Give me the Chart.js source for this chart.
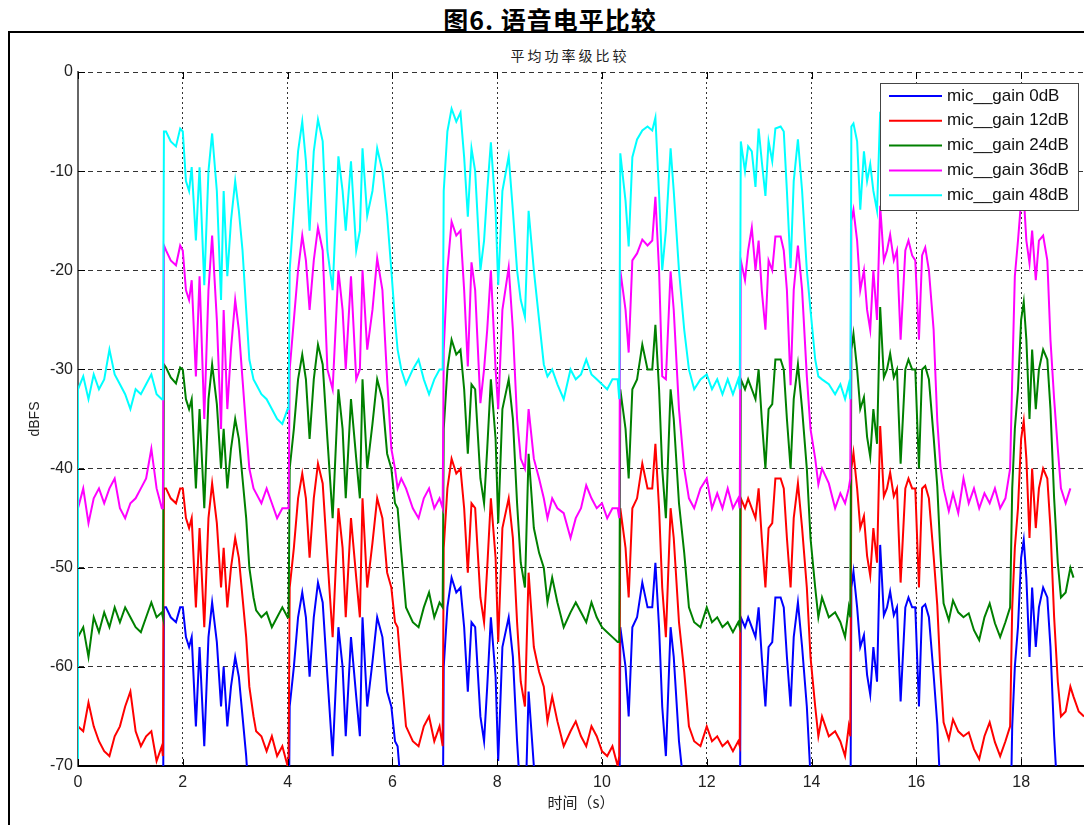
<!DOCTYPE html>
<html>
<head>
<meta charset="utf-8">
<title>语音电平比较</title>
<script src="https://cdn.jsdelivr.net/npm/chart.js@4.4.1/dist/chart.umd.min.js"></script>
<style>
    html, body { margin: 0; padding: 0; background: #fff; }
    #page { position: relative; width: 1084px; height: 825px; overflow: hidden; }
    #figTitle {
        position: absolute; left: 0; top: 1px; width: 1100px; text-align: center;
        font: bold 25px "Noto Sans CJK SC", sans-serif; letter-spacing: 1px; color: #000;
    }
    #frame {
        position: absolute; left: 8px; top: 31px; width: 1200px; height: 900px;
        border-left: 2px solid #000; border-top: 2px solid #000;
    }
    #axTitle {
        position: absolute; left: 0; top: 45px; width: 1140px; text-align: center;
        font: 14px "Noto Sans CJK SC", sans-serif; letter-spacing: 3px; color: #222;
    }
    #chart { position: absolute; left: 0; top: 0; }
</style>
</head>
<body>
<div id="page">
    <div id="figTitle">图6. 语音电平比较</div>
    <div id="frame"></div>
    <div id="axTitle">平均功率级比较</div>
    <canvas id="chart" width="1084" height="825"></canvas>
</div>
<script>
/**
 * Speech level comparison (dBFS vs time in s)
 */

const times = [
    0, 0.1, 0.2, 0.3, 0.4, 0.5, 0.6, 0.7, 0.8, 0.9,
    1.0, 1.1, 1.2, 1.3, 1.4, 1.5, 1.6, 1.62, 1.64, 1.68,
    1.77, 1.87, 1.95, 2.0, 2.06, 2.12, 2.17, 2.25, 2.32, 2.41,
    2.49, 2.56, 2.65, 2.73, 2.78, 2.85, 2.92, 3.0, 3.07, 3.14,
    3.21, 3.27, 3.35, 3.4, 3.5, 3.6, 3.7, 3.8, 3.9, 4.0,
    4.02, 4.04, 4.12, 4.2, 4.28, 4.35, 4.42, 4.5, 4.58, 4.67,
    4.76, 4.86, 4.97, 5.05, 5.11, 5.21, 5.31, 5.38, 5.43, 5.52,
    5.62, 5.71, 5.81, 5.9, 5.98, 6.05, 6.1, 6.17, 6.26, 6.39,
    6.5, 6.6, 6.7, 6.8, 6.9, 6.96, 6.98, 7.05, 7.13, 7.22,
    7.3, 7.37, 7.44, 7.51, 7.58, 7.68, 7.75, 7.81, 7.88, 7.97,
    8.02, 8.1, 8.22, 8.3, 8.38, 8.45, 8.53, 8.6, 8.7, 8.8,
    8.89, 8.96, 9.05, 9.15, 9.27, 9.4, 9.5, 9.6, 9.7, 9.8,
    9.9, 10.0, 10.1, 10.2, 10.3, 10.33, 10.35, 10.45, 10.51, 10.58,
    10.67, 10.77, 10.87, 10.96, 11.02, 11.09, 11.15, 11.22, 11.31, 11.37,
    11.47, 11.57, 11.66, 11.76, 11.88, 12.0, 12.1, 12.2, 12.3, 12.4,
    12.5, 12.6, 12.63, 12.65, 12.73, 12.79, 12.86, 12.93, 12.99, 13.05,
    13.12, 13.18, 13.25, 13.31, 13.41, 13.47, 13.53, 13.6, 13.66, 13.74,
    13.82, 13.91, 13.98, 14.07, 14.13, 14.2, 14.33, 14.45, 14.55, 14.64,
    14.71, 14.74, 14.76, 14.8, 14.87, 14.93, 15.0, 15.06, 15.12, 15.18,
    15.25, 15.31, 15.38, 15.44, 15.5, 15.57, 15.63, 15.7, 15.79, 15.85,
    15.92, 15.98, 16.05, 16.11, 16.17, 16.24, 16.33, 16.4, 16.46, 16.52,
    16.62, 16.7, 16.8, 16.9, 17.0, 17.1, 17.2, 17.3, 17.4, 17.5,
    17.6, 17.7, 17.79, 17.83, 17.88, 17.94, 18.0, 18.05, 18.1, 18.16,
    18.21, 18.28, 18.34, 18.42, 18.5, 18.56, 18.63, 18.7, 18.76, 18.85,
    18.94, 19.0, 19.1, 19.2
];

// mic gain 0dB (mostly below -70 when silent)
const gain0dB = [
    -81, -80, -83, -79, -80, -78, -80, -78, -79, -78,
    -79, -80, -80, -79, -78, -79, -79, -80, -54, -54,
    -55, -55.5, -54, -54, -57, -58, -57, -66, -58, -68,
    -57, -53.5, -57.5, -64, -60, -66, -62, -59, -61, -65,
    -69, -74, -77, -78, -79, -78, -80, -79, -78, -79,
    -79, -64, -60, -55, -52.5, -55, -61, -55, -51.5, -53.5,
    -61, -69, -56, -60, -67, -57, -63, -67, -55, -64,
    -59.5, -55, -57, -62.5, -64, -67.5, -68, -72.5, -78, -79.5,
    -80, -78, -77, -79, -78, -78, -60, -54, -51, -52.5,
    -52, -56, -62.5, -55.5, -56, -65, -67.5, -62, -55, -61,
    -69.5, -58, -55, -59, -67.5, -73.5, -76, -62.5, -70, -72.5,
    -74, -77.5, -75, -77.5, -80, -78.5, -77.5, -78.5, -79.5, -77.5,
    -79, -80, -80.5, -81, -81.5, -81.5, -56, -60, -65, -56,
    -55, -51.5, -54, -54, -49.5, -56, -64, -69, -56, -59,
    -67.5, -72.5, -78, -79.5, -80, -78, -79.5, -79, -80, -79.5,
    -80.5, -79.5, -80, -55, -56, -55, -56, -57, -54, -59,
    -64, -58, -57.5, -53, -53, -54, -59, -64, -57, -53.5,
    -58, -64, -71, -76, -79, -77, -79, -78.5, -79.5, -81,
    -78, -79, -52, -50.4, -54, -58, -56.8, -60.8, -62.8, -58,
    -61.5, -47.7, -54.8, -54, -52.4, -54.8, -54, -63.5, -54, -53,
    -54, -54, -64, -54, -53.7, -55, -60.8, -65.8, -72.6, -77.6,
    -79.3, -77.3, -78.5, -79, -78.6, -80.3, -81.3, -79, -77.6, -79.6,
    -81, -79.5, -78, -66, -60, -56, -49, -47.2, -51, -59,
    -52, -58, -54, -52, -53, -58, -67, -73.5, -77, -76.5,
    -74, -75
];

const gain12dB = [
    -66, -66.5, -63.6, -66, -67.5, -68.5, -69, -67, -66, -64,
    -62.5, -66.5, -68, -67, -66.5, -69.5, -68, -69, -42, -42,
    -43, -43.5, -42, -42, -45, -46, -45, -54, -46, -56,
    -45, -41.5, -45.5, -52, -48, -54, -50, -47, -49, -53,
    -57, -62, -65, -66.5, -67, -68.5, -67, -69, -68, -70,
    -69, -52, -48, -43, -40.5, -43, -49, -43, -39.5, -41.5,
    -49, -57, -44, -48, -55, -45, -51, -55, -43, -52,
    -47.5, -43, -45, -50.5, -52, -55.5, -56, -60.5, -66, -67.5,
    -68, -66, -65, -67.5, -66, -68, -48, -42, -39, -40.5,
    -40, -44, -50.5, -43.5, -44, -53, -55.5, -50, -43, -49,
    -57.5, -46, -43, -47, -55.5, -61.5, -64, -50.5, -58, -60.5,
    -62, -65.5, -63, -65.5, -68, -66.5, -65.5, -67, -68, -66,
    -67, -68.5, -69, -68, -70, -69, -44, -48, -53, -44,
    -43, -39.5, -42, -42, -37.5, -44, -52, -57, -44, -47,
    -55.5, -60.5, -66, -67.5, -68, -66, -67.5, -67, -68, -67.5,
    -68.5, -67.5, -68, -43, -44, -43, -44, -45, -42, -47,
    -52, -46, -45.5, -41, -41, -42, -47, -52, -45, -41.5,
    -46, -52, -59, -64, -67, -65, -67, -66.5, -67.5, -69,
    -66, -67, -40, -38.4, -42, -46, -44.8, -48.8, -50.8, -46,
    -49.5, -35.7, -42.8, -42, -40.4, -42.8, -42, -51.5, -42, -41,
    -42, -42, -52, -42, -41.7, -43, -48.8, -53.8, -60.6, -65.6,
    -67.3, -65.3, -66.5, -67, -66.6, -68.3, -69.3, -67, -65.6, -67.6,
    -69, -67.5, -66, -54, -48, -44, -37, -35.2, -39, -47,
    -40, -46, -42, -40, -41, -46, -55, -61.5, -65, -64.5,
    -62, -63, -64.5, -65
];

const gain24dB = [
    -57, -56, -59, -55, -56.5, -54.5, -56, -54, -55.5, -54,
    -55, -56, -56.5, -55, -53.5, -55, -54.5, -55, -29.5, -29.8,
    -30.8, -31.4, -29.8, -30, -33, -34, -33, -42, -34, -44,
    -33, -29.5, -33.5, -40, -36, -42, -38, -35, -37, -41,
    -45, -50, -53, -54.3, -55, -54.5, -56, -55, -54, -55,
    -55, -40, -36, -31, -28.5, -31, -37, -31, -27.5, -29.5,
    -37, -45, -32, -36, -43, -33, -39, -43, -31, -40,
    -35.5, -31, -33, -38.5, -40, -43.5, -44, -48.5, -54, -55.5,
    -56, -54, -52.5, -55, -53.5, -54, -36, -30, -27, -28.5,
    -28, -32, -38.5, -31.5, -32, -41, -43.5, -38, -31, -37,
    -45.5, -34, -31, -35, -43.5, -49.5, -52, -38.5, -46, -48.5,
    -50, -53.5, -51, -53.5, -56, -54.5, -53.5, -54.5, -55.5, -53.5,
    -55, -56, -56.5, -57, -57.5, -57.5, -32, -36, -41, -32,
    -31, -27.5, -30, -30, -25.5, -32, -40, -45, -32, -35,
    -43.5, -48.5, -54, -55.5, -56, -54, -55.5, -55, -56, -55.5,
    -56.5, -55.5, -56, -31, -32, -31, -32, -33, -30, -35,
    -40, -34, -33.5, -29, -29, -30, -35, -40, -33, -29.5,
    -34, -40, -47, -52, -55, -53, -55, -54.5, -55.5, -57,
    -54, -55, -28, -26.4, -30, -34, -32.8, -36.8, -38.8, -34,
    -37.5, -23.7, -30.8, -30, -28.4, -30.8, -30, -39.5, -30, -29,
    -30, -30, -40, -30, -29.7, -31, -36.8, -41.8, -48.6, -53.6,
    -55.3, -53.3, -54.5, -55, -54.6, -56.3, -57.3, -55, -53.6, -55.6,
    -57, -55.5, -54, -42, -36, -32, -25, -23.2, -27, -35,
    -28, -34, -30, -28, -29, -34, -43, -49.5, -53, -52.5,
    -50, -51
];

const gain36dB = [
    -44, -42, -45.5, -43, -42, -43.5, -42, -41, -44, -45,
    -43.5, -43, -42, -41, -38, -42, -44, -44, -17.5, -18,
    -19, -19.5, -17.5, -18, -22, -23, -21, -30.7, -20.6, -35,
    -22, -16.5, -25, -36, -24, -34, -28, -23, -26, -31,
    -36, -40, -42, -42.5, -43.5, -42, -43.5, -45, -44, -44,
    -44, -30, -25, -20, -16.5, -19, -24, -19, -15.7, -18,
    -30, -32, -20, -24, -30, -20.6, -31, -30, -20, -28,
    -24, -18.8, -22, -31, -38, -40, -42, -41, -42, -44,
    -45, -43, -42, -44, -43, -44, -28, -20, -15.1, -16.5,
    -16, -22, -29.7, -19.2, -22, -33.4, -30, -26, -20, -30,
    -34, -24, -19.7, -26, -35, -39, -40, -34, -39, -41,
    -43, -45, -43, -44, -44.5, -47, -45, -44, -41.7, -43,
    -44, -43.5, -45, -44, -44, -45, -20, -24, -28.3, -19,
    -18.3, -16.9, -17.5, -17, -12.6, -20, -30.7, -31, -20.1, -24,
    -34, -40, -43, -44, -42, -41, -44, -42.5, -44, -42,
    -44, -43, -44, -19, -21, -18, -15.7, -20, -17, -22,
    -26, -19, -20, -16.6, -16.6, -18, -22, -31.6, -22, -17.5,
    -22, -30.7, -36, -39, -41.6, -40, -41.5, -44, -42.5, -43.5,
    -42, -41, -15, -13.9, -17, -22, -20, -24, -26, -20,
    -25, -13.5, -19, -18, -16.4, -19, -18, -27, -18, -17,
    -18.5, -19, -27, -18.5, -17.7, -20, -26, -35.2, -39.8, -42,
    -44.3, -42.5, -44.5, -41, -43.5, -42, -44, -42.5, -43.5, -42,
    -44, -43, -40, -31, -20.6, -17, -13, -12.5, -17, -19.3,
    -16, -21, -17, -16.5, -19, -27, -33, -38, -42, -43.5,
    -42
];

// 48dB trace stops under the legend (~15.4 s)
const gain48dB = [
    -32, -30.7, -33, -30.5, -32, -31, -28, -30.5, -31.5, -32.5,
    -34, -32, -32.5, -31.5, -30.5, -32.5, -33, -33, -6, -6,
    -7, -7.5, -5.7, -6, -11, -12, -9.6, -17, -9.6, -21.5,
    -10, -6.2, -12, -23, -12, -20.6, -15, -11, -14, -18,
    -24, -29, -31, -31.5, -32.5, -33, -34, -35, -35.5, -34,
    -34, -20, -14, -8, -5, -9, -16, -8, -4.8, -7,
    -18, -22, -8.5, -12, -16, -9, -18, -16, -7.7, -14.5,
    -12, -7.7, -10, -14.5, -20, -25, -28, -30, -31.5, -30,
    -29, -31, -32.5, -31, -30, -30, -12, -6, -3.7, -5,
    -4.1, -8.6, -14.6, -7.7, -10, -20, -17, -12, -7.1, -14,
    -21.5, -12, -8.5, -14, -20, -23, -24.7, -14, -20, -25,
    -29.5, -30.7, -30, -31.5, -33, -30, -31, -30.5, -29, -30.5,
    -31, -31.5, -32, -31, -31, -33, -8.2, -13, -17.6, -8.6,
    -6.8, -5.9, -5.5, -5.9, -4.6, -12.3, -20, -16, -7.7, -12,
    -20, -26, -30, -32, -31, -30.5, -32, -31, -32.5, -31,
    -32.5, -31, -32, -7, -10, -7.5, -8, -11.6, -5.7, -9,
    -12.5, -7, -9, -5.7, -5.5, -6, -12, -19.8, -11, -6.8,
    -12, -20, -24, -29, -30.7, -31, -31.5, -32.5, -31.5, -33,
    -31.5, -33, -5.5, -5.2, -7, -13.9, -8, -11, -9.3, -12,
    -14, -4, -7
];

const seriesLabels = ['mic__gain 0dB', 'mic__gain 12dB', 'mic__gain 24dB', 'mic__gain 36dB', 'mic__gain 48dB'];
const seriesColors = ['#0000ff', '#ff0000', '#008000', '#ff00ff', '#00ffff'];
const seriesValues = [gain0dB, gain12dB, gain24dB, gain36dB, gain48dB];

const START_DB = -80;   // every trace starts from silence at t = 0
const X_MAX = 19.2;

function toPoints(values) {
    const pts = [{ x: 0, y: START_DB }];
    values.forEach((v, i) => {
        if (v !== null && v !== undefined) pts.push({ x: times[i], y: v });
    });
    return pts;
}

/**
 * MATLAB style extras: inward ticks and the boxed legend
 */
const matlabLook = {
    id: 'matlabLook',
    afterDatasetsDraw(chart) {
        const { ctx, chartArea, scales } = chart;
        ctx.save();
        ctx.strokeStyle = '#000';
        ctx.lineWidth = 1;
        ctx.beginPath();
        scales.x.ticks.forEach(t => {
            const px = Math.round(scales.x.getPixelForValue(t.value)) + 0.5;
            ctx.moveTo(px, chartArea.bottom);
            ctx.lineTo(px, chartArea.bottom - 7);
            ctx.moveTo(px, chartArea.top);
            ctx.lineTo(px, chartArea.top + 7);
        });
        scales.y.ticks.forEach(t => {
            const py = Math.round(scales.y.getPixelForValue(t.value)) + 0.5;
            ctx.moveTo(chartArea.left, py);
            ctx.lineTo(chartArea.left + 7, py);
        });
        ctx.stroke();

        // legend box
        const box = { x: 880, y: 83, w: 198, h: 127, row: 24.8 };
        ctx.fillStyle = '#fff';
        ctx.fillRect(box.x, box.y, box.w, box.h);
        ctx.strokeStyle = '#444';
        ctx.strokeRect(box.x + 0.5, box.y + 0.5, box.w, box.h);
        ctx.font = '17px "Liberation Sans", Arial, sans-serif';
        ctx.textBaseline = 'middle';
        ctx.fillStyle = '#111';
        chart.data.datasets.forEach((ds, i) => {
            const cy = box.y + 13 + i * box.row;
            ctx.strokeStyle = ds.borderColor;
            ctx.lineWidth = 2;
            ctx.beginPath();
            ctx.moveTo(box.x + 9, cy);
            ctx.lineTo(box.x + 62, cy);
            ctx.stroke();
            ctx.fillText(ds.label, box.x + 67, cy);
        });
        ctx.restore();
    }
};

const ctx = document.getElementById('chart');

new Chart(ctx, {
    type: 'line',
    data: {
        datasets: seriesValues.map((vals, i) => ({
            label: seriesLabels[i],
            data: toPoints(vals),
            borderColor: seriesColors[i],
            backgroundColor: seriesColors[i],
            borderWidth: 2,
            pointRadius: 0,
            tension: 0,
            fill: false,
            order: seriesValues.length - i
        }))
    },
    options: {
        responsive: false,
        animation: false,
        layout: { padding: { top: 72, right: 0, left: 0, bottom: 0 } },
        plugins: {
            legend: { display: false },
            tooltip: { enabled: false }
        },
        scales: {
            x: {
                type: 'linear',
                min: 0,
                max: X_MAX,
                afterFit: (scale) => { scale.height = 59; },
                ticks: {
                    stepSize: 2,
                    includeBounds: false,
                    padding: 7,
                    maxRotation: 0,
                    color: '#222',
                    font: { family: '"Liberation Sans", Arial, sans-serif', size: 16 }
                },
                grid: { color: '#333', lineWidth: 1, drawTicks: false },
                border: { display: true, color: '#000', width: 2, dash: [2, 3] },
                title: {
                    display: true,
                    text: '时间（s）',
                    color: '#222',
                    font: { family: '"Noto Sans CJK SC", sans-serif', size: 15 },
                    padding: { top: 0, bottom: 14 }
                }
            },
            y: {
                min: -70,
                max: 0,
                afterFit: (scale) => { scale.width = 78; },
                ticks: {
                    stepSize: 10,
                    padding: 5,
                    color: '#222',
                    font: { family: '"Liberation Sans", Arial, sans-serif', size: 16 }
                },
                grid: { color: '#333', lineWidth: 1, drawTicks: false },
                border: { display: true, color: '#666', width: 2, dash: [5, 4] },
                title: {
                    display: true,
                    text: 'dBFS',
                    color: '#222',
                    font: { family: '"Liberation Sans", Arial, sans-serif', size: 14 },
                    padding: { top: 27, bottom: 0 }
                }
            }
        }
    },
    plugins: [matlabLook]
});
</script>
</body>
</html>
